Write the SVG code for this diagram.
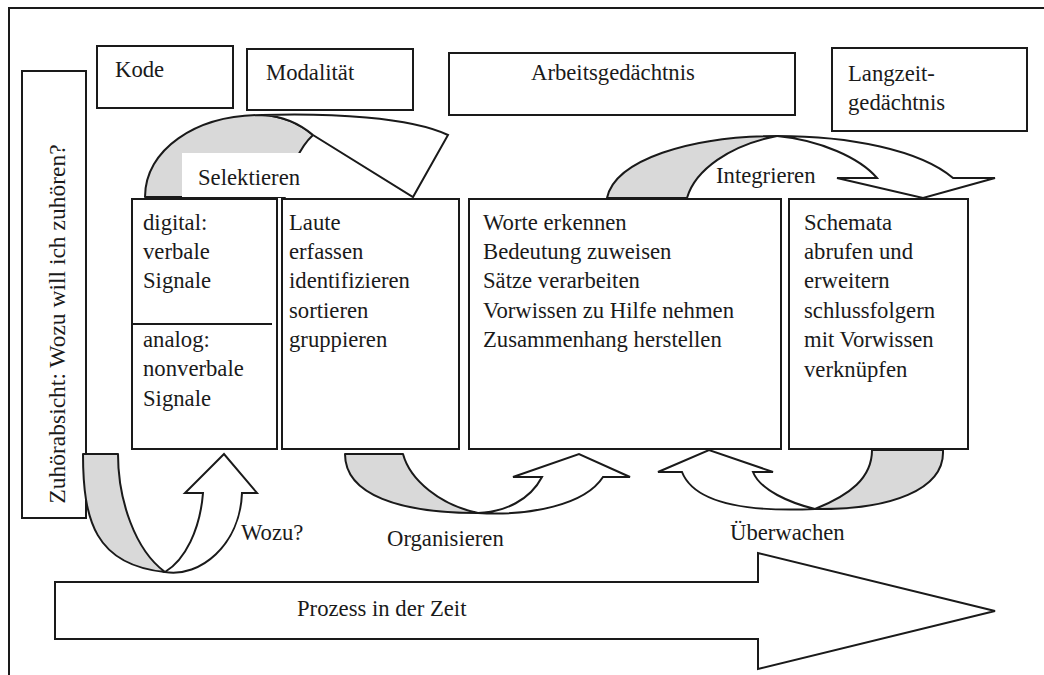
<svg xmlns="http://www.w3.org/2000/svg" width="1044" height="675" viewBox="0 0 1044 675">
<style>
.box{fill:#fff;stroke:#1a1a1a;stroke-width:2}
text{font-family:'Liberation Serif','Tinos','Times New Roman','DejaVu Serif',serif;font-size:22.7px;fill:#1a1a1a}
.g{fill:#d9d9d9;stroke:#1a1a1a;stroke-width:2;stroke-linejoin:round}
.w{fill:#fff;stroke:#1a1a1a;stroke-width:2;stroke-linejoin:miter}
.frame{fill:none;stroke:#1a1a1a;stroke-width:2}
</style>
<rect width="1044" height="675" fill="#fff"/>
<path class="frame" d="M9,675 L9,8 L1044,8"/>

<g id="zuhoerabsicht">
<rect class="box" x="22" y="71" width="64" height="447"/>
<text font-family="Liberation Serif, serif" style="font-size:23.5px" text-anchor="middle" transform="translate(65,324) rotate(-90)">Zuhörabsicht: Wozu will ich zuhören?</text>
</g>

<g id="kode">
<rect class="box" x="97" y="46" width="136" height="62"/>
<text x="115" y="77">Kode</text>
</g>
<g id="modalitaet">
<rect class="box" x="247" y="49" width="166" height="61"/>
<text x="266" y="80">Modalität</text>
</g>
<g id="arbeitsgedaechtnis">
<rect class="box" x="449" y="53" width="346" height="62"/>
<text x="531" y="80">Arbeitsgedächtnis</text>
</g>
<g id="langzeitgedaechtnis">
<rect class="box" x="832" y="48" width="195" height="83"/>
<text x="848" y="81">Langzeit-</text>
<text x="848" y="110">gedächtnis</text>
</g>

<g id="signale">
<rect class="box" x="132" y="199" width="145" height="250"/>
<line x1="132" y1="324" x2="272" y2="324" stroke="#1a1a1a" stroke-width="2"/>
<text x="143" y="230">digital:</text>
<text x="143" y="259">verbale</text>
<text x="143" y="288">Signale</text>
<text x="143" y="347">analog:</text>
<text x="143" y="376">nonverbale</text>
<text x="143" y="406">Signale</text>
</g>
<g id="laute">
<rect class="box" x="282" y="199" width="177" height="250"/>
<text x="289" y="230">Laute</text>
<text x="289" y="259">erfassen</text>
<text x="289" y="288">identifizieren</text>
<text x="289" y="318">sortieren</text>
<text x="289" y="347">gruppieren</text>
</g>
<g id="worte">
<rect class="box" x="469" y="199" width="312" height="250"/>
<text x="483" y="230">Worte erkennen</text>
<text x="483" y="259">Bedeutung zuweisen</text>
<text x="483" y="288">Sätze verarbeiten</text>
<text x="483" y="318">Vorwissen zu Hilfe nehmen</text>
<text x="483" y="347">Zusammenhang herstellen</text>
</g>
<g id="schemata">
<rect class="box" x="789" y="199" width="179" height="250"/>
<text x="804" y="230">Schemata</text>
<text x="804" y="259">abrufen und</text>
<text x="804" y="288">erweitern</text>
<text x="804" y="318">schlussfolgern</text>
<text x="804" y="347">mit Vorwissen</text>
<text x="804" y="377">verknüpfen</text>
</g>

<g id="connectors">
<g id="selektieren">
<path class="g" d="M145,197 C145,150 195,115 262,115 C282,116 300,124 313,135 C300,147 290,170 285,197 Z"/>
<rect x="182" y="153" width="128" height="44" fill="#fff"/>
<path class="w" d="M262,115 C330,113 410,117 448,135 L413,197 L313,135 C300,124 282,116 262,115 Z"/>
<text x="198" y="185">Selektieren</text>
</g>
<g id="integrieren">
<path class="g" d="M607,198 C615,160 690,136 777,136 C730,145 695,170 687,198 Z"/>
<path class="w" d="M777,136 C850,136 920,150 953,178 L995,178 L923,198 L837,178 L877,178 C860,158 820,140 777,136 Z"/>
<text x="716" y="183">Integrieren</text>
</g>
<g id="wozu">
<path class="g" d="M83,454 L118,454 C118,500 135,550 165,572 C95,565 83,520 83,454 Z"/>
<path class="w" d="M165,572 C200,578 240,545 242,493 L257,493 L224,454 L185,493 L203,493 C200,530 185,560 165,572 Z"/>
<text x="241" y="540">Wozu?</text>
</g>
<g id="organisieren">
<path class="g" d="M345,454 L403,454 C410,480 440,505 478,513 C400,513 345,495 345,454 Z"/>
<path class="w" d="M478,513 C530,516 585,505 603,477 L630,477 L579,454 L513,477 L542,477 C530,500 505,512 478,513 Z"/>
<text x="387" y="546">Organisieren</text>
</g>
<g id="ueberwachen">
<path class="g" d="M872,450 L943,450 C945,490 890,510 815,509 C850,495 872,478 872,450 Z"/>
<path class="w" d="M815,509 C750,512 695,505 682,472 L658,472 L709,450 L773,472 L753,472 C760,490 790,503 815,509 Z"/>
<text x="730" y="540">Überwachen</text>
</g>
</g>

<g id="prozess">
<path class="w" d="M55,582 L758,582 L758,553 L995,611 L758,669 L758,639 L55,639 Z"/>
<text x="297" y="616">Prozess in der Zeit</text>
</g>
</svg>
